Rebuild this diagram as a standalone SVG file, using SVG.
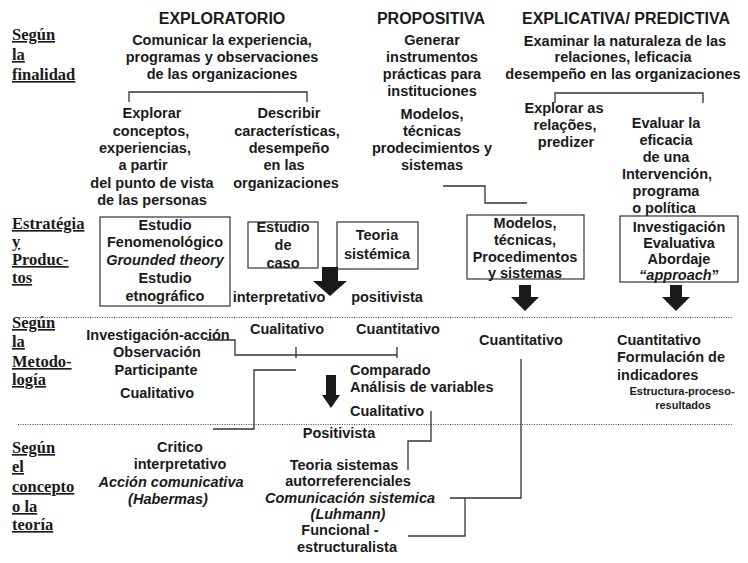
<svg xmlns="http://www.w3.org/2000/svg" width="748" height="563" viewBox="0 0 748 563">
<style>
.t{font-family:"Liberation Sans",Arial,sans-serif;font-weight:bold;font-size:14.5px;fill:#1a1a1a;text-anchor:middle}
.h{font-size:16px}
.st{text-anchor:start}
.i{font-style:italic}
.sm{font-size:11px}
.s{font-family:"Liberation Serif","Times New Roman",serif;font-weight:bold;font-size:16.5px;fill:#1a1a1a;text-decoration:underline}
.box{fill:none;stroke:#333;stroke-width:1.2}
.ln{fill:none;stroke:#333;stroke-width:1.3}
.dot{fill:none;stroke:#444;stroke-width:1;stroke-dasharray:1 1.4}
.ar{fill:#1a1a1a}
</style>
<rect width="748" height="563" fill="#fff"/>
<g id="labels">
<text class="s" x="12" y="40">Según</text>
<text class="s" x="12" y="60">la</text>
<text class="s" x="12" y="80">finalidad</text>
<text class="s" x="12" y="229">Estratégia</text>
<text class="s" x="12" y="247">y</text>
<text class="s" x="12" y="265">Produc-</text>
<text class="s" x="12" y="283">tos</text>
<text class="s" x="12" y="328">Según</text>
<text class="s" x="12" y="347">la</text>
<text class="s" x="12" y="367">Metodo-</text>
<text class="s" x="12" y="385">logía</text>
<text class="s" x="12" y="453">Según</text>
<text class="s" x="12" y="472">el</text>
<text class="s" x="12" y="492">concepto</text>
<text class="s" x="12" y="512">o la</text>
<text class="s" x="12" y="530">teoría</text>
</g>
<g id="exploratorio">
<text class="t h" x="222" y="24">EXPLORATORIO</text>
<text class="t" x="222" y="45">Comunicar la experiencia,</text>
<text class="t" x="222" y="62">programas y observaciones</text>
<text class="t" x="222" y="79">de las organizaciones</text>
</g>
<g id="propositiva">
<text class="t h" x="431" y="24">PROPOSITIVA</text>
<text class="t" x="432" y="45">Generar</text>
<text class="t" x="432" y="62">instrumentos</text>
<text class="t" x="432" y="79">prácticas para</text>
<text class="t" x="432" y="96">instituciones</text>
</g>
<g id="propositiva-productos">
<text class="t" x="432" y="119">Modelos,</text>
<text class="t" x="432" y="136">técnicas</text>
<text class="t" x="432" y="153">prodecimientos y</text>
<text class="t" x="432" y="170">sistemas</text>
</g>
<g id="explicativa">
<text class="t h" x="626" y="24">EXPLICATIVA/ PREDICTIVA</text>
<text class="t" x="625" y="46">Examinar la naturaleza de las</text>
<text class="t" x="623" y="62">relaciones, leficacia</text>
<text class="t" x="623" y="79">desempeño en las organizaciones</text>
</g>
<g id="explorar">
<text class="t" x="152" y="118">Explorar</text>
<text class="t" x="151" y="136">conceptos,</text>
<text class="t" x="145" y="153">experiencias,</text>
<text class="t" x="143" y="170">a partir</text>
<text class="t" x="152" y="188">del punto de vista</text>
<text class="t" x="152" y="205">de las personas</text>
</g>
<g id="describir">
<text class="t" x="289" y="118">Describir</text>
<text class="t" x="287" y="136">características,</text>
<text class="t" x="289" y="153">desempeño</text>
<text class="t" x="284" y="170">en las</text>
<text class="t" x="286" y="188">organizaciones</text>
</g>
<g id="explorar-as">
<text class="t" x="564" y="113">Explorar as</text>
<text class="t" x="565" y="130">relações,</text>
<text class="t" x="566" y="147">predizer</text>
</g>
<g id="evaluar">
<text class="t" x="666" y="128">Evaluar la</text>
<text class="t" x="666" y="145">eficacia</text>
<text class="t" x="666" y="162">de una</text>
<text class="t" x="667" y="179">Intervención,</text>
<text class="t" x="666" y="196">programa</text>
<text class="t" x="664" y="213">o política</text>
</g>
<g id="box-fenomenologico">
<rect class="box" x="100" y="217" width="130" height="89"/>
<text class="t" x="165" y="230">Estudio</text>
<text class="t" x="165" y="247">Fenomenológico</text>
<text class="t i" x="165" y="265">Grounded theory</text>
<text class="t" x="165" y="283">Estudio</text>
<text class="t" x="165" y="301">etnográfico</text>
</g>
<g id="box-caso">
<rect class="box" x="248" y="222" width="70" height="46"/>
<text class="t" x="283" y="232">Estudio</text>
<text class="t" x="283" y="250">de</text>
<text class="t" x="283" y="268">caso</text>
</g>
<g id="box-teoria">
<rect class="box" x="337" y="222" width="81" height="47"/>
<text class="t" x="377" y="240">Teoria</text>
<text class="t" x="377" y="259">sistémica</text>
</g>
<g id="interp-posit">
<text class="t" x="279" y="302">interpretativo</text>
<text class="t" x="387" y="302">positivista</text>
</g>
<g id="box-modelos">
<rect class="box" x="467" y="215" width="117" height="64"/>
<text class="t" x="525" y="228">Modelos,</text>
<text class="t" x="525" y="245">técnicas,</text>
<text class="t" x="525" y="262">Procedimentos</text>
<text class="t" x="525" y="278">y sistemas</text>
</g>
<g id="box-evaluativa">
<rect class="box" x="620" y="216" width="118" height="66"/>
<text class="t" x="679" y="232">Investigación</text>
<text class="t" x="679" y="248">Evaluativa</text>
<text class="t" x="679" y="264">Abordaje</text>
<text class="t" x="679" y="280"><tspan class="i">“approach</tspan>”</text>
</g>
<g id="metodologia-izq">
<text class="t" x="158" y="340">Investigación-acción</text>
<text class="t" x="157" y="357">Observación</text>
<text class="t" x="156" y="375">Participante</text>
<text class="t" x="157" y="398">Cualitativo</text>
</g>
<g id="metodologia-centro">
<text class="t" x="287" y="334">Cualitativo</text>
<text class="t" x="398" y="334">Cuantitativo</text>
<text class="t st" x="350" y="375">Comparado</text>
<text class="t st" x="350" y="392">Análisis de variables</text>
<text class="t st" x="350" y="416">Cualitativo</text>
</g>
<g id="metodologia-modelos">
<text class="t" x="521" y="345">Cuantitativo</text>
</g>
<g id="metodologia-evaluativa">
<text class="t st" x="617" y="345">Cuantitativo</text>
<text class="t st" x="617" y="362">Formulación de</text>
<text class="t st" x="617" y="380">indicadores</text>
<text class="t sm" x="682" y="395">Estructura-proceso-</text>
<text class="t sm" x="683" y="409">resultados</text>
</g>
<g id="critico">
<text class="t" x="180" y="452">Critico</text>
<text class="t" x="180" y="469">interpretativo</text>
<text class="t i" x="171" y="487">Acción comunicativa</text>
<text class="t i" x="168" y="504">(Habermas)</text>
</g>
<g id="positivista">
<text class="t" x="339" y="438">Positivista</text>
</g>
<g id="sistemas">
<text class="t" x="344" y="470">Teoria sistemas</text>
<text class="t" x="348" y="486">autorreferenciales</text>
<text class="t i" x="350" y="503">Comunicación sistemica</text>
<text class="t i" x="348" y="519">(Luhmann)</text>
</g>
<g id="funcional">
<text class="t" x="340" y="535">Funcional -</text>
<text class="t" x="347" y="552">estructuralista</text>
</g>
<g id="connectors">
<line class="dot" x1="18" y1="317.5" x2="733" y2="317.5"/>
<line class="dot" x1="18" y1="424.5" x2="733" y2="424.5"/>
<path class="ln" d="M129,102 V92 H307 V102"/>
<path class="ln" d="M555,103 V93 H703 V103"/>
<path class="ln" d="M443,186 H485 V203 H527"/>
<path class="ln" d="M207,340 H235 V355 H397"/>
<path class="ln" d="M296,347 V358 M397,347 V358"/>
<path class="ln" d="M296,370 H254 V429 H213"/>
<path class="ln" d="M431,411 V441 H408 V470"/>
<path class="ln" d="M521,359 V498 H450"/>
<path class="ln" d="M465,498 V536 H408"/>
<path class="ar" d="M322,267 H338 V281 H347 L330,296 L313,281 H322 Z"/>
<path class="ar" d="M519,285 H531 V297 H539 L525,311 L511,297 H519 Z"/>
<path class="ar" d="M670,285 H682 V297 H690 L676,311 L662,297 H670 Z"/>
<path class="ar" d="M326,375 H336 V395 H340 L331,408 L322,395 H326 Z"/>
</g>
</svg>
